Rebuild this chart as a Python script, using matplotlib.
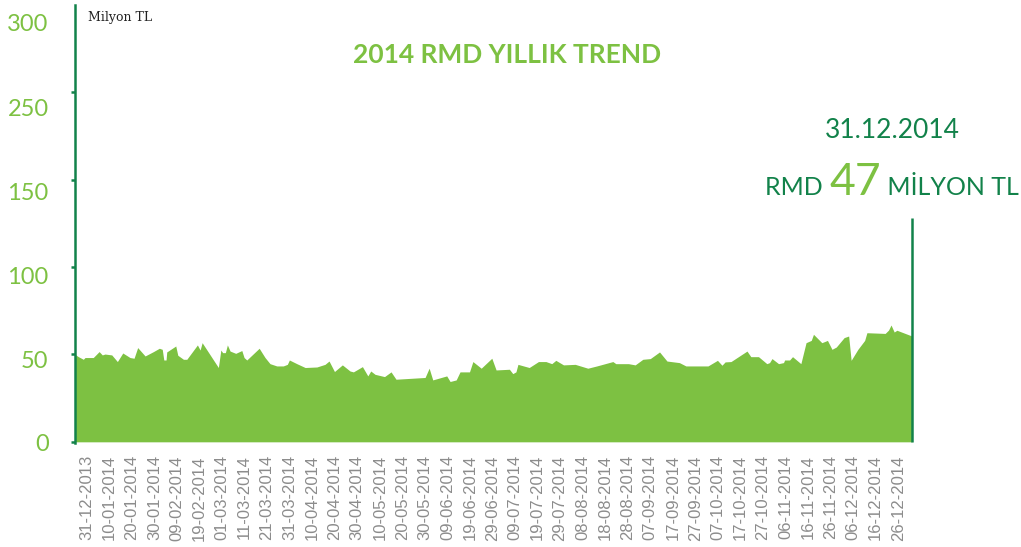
import numpy as np
import pandas as pd
import matplotlib
matplotlib.use("Agg")
import matplotlib.pyplot as plt

# RMD balance (million TL); x = days counted from 31-12-2013
days = [-5.2, -3.7, -1.5, -0.75, 2.9, 5.5, 6.9, 8.1, 11.1, 13.6, 16.0, 19.2, 21.0,
        22.6, 25.9, 29.6, 32.2, 33.5, 34.2, 35.2, 35.5, 39.5, 40.4, 42.9, 44.4,
        49.1, 50.3, 51.2, 58.4, 59.5, 60.3, 61.5, 62.4, 63.6, 66.1, 68.8, 69.8,
        71.0, 76.5, 79.1, 81.3, 84.3, 87.2, 89.0, 89.9, 93.2, 96.9, 102.1, 105.7,
        107.5, 109.9, 113.4, 116.8, 118.3, 122.3, 124.7, 126.0, 127.9, 132.1,
        135.0, 137.2, 150.1, 151.9, 153.5, 159.7, 161.2, 163.9, 165.6, 169.8,
        171.3, 175.0, 179.7, 181.6, 187.5, 189.0, 190.4, 191.3, 196.3, 200.4,
        203.7, 206.3, 208.1, 211.5, 216.7, 222.3, 226.3, 233.4, 234.7, 240.3,
        243.3, 246.7, 250.0, 254.1, 257.4, 262.9, 265.8, 275.6, 279.8, 281.8,
        283.2, 285.8, 292.9, 294.6, 298.0, 301.7, 302.9, 304.0, 306.9, 309.1,
        309.6, 311.8, 313.1, 316.8, 319.1, 321.4, 322.4, 326.1, 328.6, 330.6,
        332.5, 336.0, 338.0, 339.1, 342.1, 345.1, 346.1, 354.2, 355.7, 356.8,
        358.2, 359.4, 366.1]
rmd = [50.0, 48.7, 47.2, 48.2, 48.2, 51.6, 49.7, 50.2, 49.7, 45.9, 50.8, 48.2, 47.8,
       53.9, 49.1, 51.6, 53.5, 52.9, 46.8, 46.8, 51.4, 54.8, 49.5, 47.2, 47.2,
       55.4, 52.5, 56.7, 42.5, 52.5, 51.0, 51.0, 55.4, 51.9, 50.6, 52.2, 48.2,
       46.8, 53.5, 48.2, 44.7, 43.4, 43.4, 44.3, 46.8, 44.7, 42.5, 42.8, 44.3,
       46.2, 40.2, 44.0, 40.5, 40.0, 43.0, 37.7, 40.5, 38.6, 37.3,
       40.0, 35.8, 36.8, 42.1, 35.4, 37.7, 34.5, 35.4, 40.0, 40.0,
       45.9, 42.1, 47.8, 41.1, 41.5, 39.0, 40.0, 44.3, 42.5, 45.9,
       45.9, 44.7, 46.6, 44.0, 44.3, 42.1, 43.4, 45.9, 44.7, 44.7,
       44.0, 47.2, 47.6, 51.4, 46.2, 45.3, 43.4, 43.4, 46.6, 43.8,
       45.7, 45.9, 51.9, 48.7, 48.7, 44.7, 45.3, 47.6, 44.7, 45.3,
       46.8, 46.8, 48.7, 44.7, 56.7, 58.0, 61.5, 56.7, 58.0, 52.9,
       54.2, 59.6, 60.5, 46.6, 52.9, 58.0, 62.4, 62.0, 63.9, 66.8,
       62.8, 63.8, 60.5]

tick_days = np.arange(0, 361, 10)
tick_labels = (pd.Timestamp("2013-12-31") + pd.to_timedelta(tick_days, unit="D")).strftime("%d-%m-%Y")

y_ticks = [0, 50, 100, 150, 200]
y_labels = ["0", "50", "100", "150", "250", "300"]
y_label_pos = [-0.5, 47, 95, 143, 191, 240]

end_value_line = 128

light_green = "#7dc142"
dark_green = "#12824a"

fig = plt.figure(figsize=(10.21, 5.47), dpi=100)
ax = fig.add_axes([75 / 1021, 104.3 / 547, (912 - 75) / 1021, 438 / 547])

ax.fill_between(days, rmd, 0, color=light_green, linewidth=0)
ax.plot([days[-1], days[-1]], [0, end_value_line], color=dark_green, lw=1.8,
        solid_capstyle="butt", clip_on=False)

ax.set_xlim(days[0], days[-1])
ax.set_ylim(0, 250)

for s in ["top", "right", "bottom"]:
    ax.spines[s].set_visible(False)
ax.spines["left"].set_color(dark_green)
ax.spines["left"].set_linewidth(1.8)

ax.set_xticks(tick_days)
ax.set_xticklabels(tick_labels, rotation=90, fontsize=12, color="#8c8c8c",
                   family="Liberation Sans")
ax.tick_params(axis="x", length=0, pad=9)

ax.yaxis.remove_overlapping_locs = False
ax.set_yticks(y_ticks)
ax.set_yticklabels([])
ax.tick_params(axis="y", which="major", length=3, width=1.8, color=dark_green)
ax.set_yticks(y_label_pos, minor=True)
ax.set_yticklabels(y_labels, minor=True, fontsize=17, color=light_green, family="Lato")
ax.tick_params(axis="y", which="minor", length=0, pad=19)

fig.text(88 / 1021, 1 - 17 / 547, "Milyon TL", fontsize=9, family="DejaVu Serif",
         color="#222222", va="center", ha="left")
fig.text(507 / 1021, 1 - 55 / 547, "2014 RMD YILLIK TREND", fontsize=19,
         fontweight="bold", family="Lato", color=light_green, ha="center", va="center")

fig.text(892 / 1021, 1 - 130 / 547, "31.12.2014", fontsize=19, family="Lato",
         color=dark_green, ha="center", va="center")
base_y = 1 - 195 / 547
t1 = fig.text(765 / 1021, base_y, "RMD ", fontsize=18, family="Lato",
              color=dark_green, ha="left", va="baseline")
fig.canvas.draw()
bb = t1.get_window_extent()
t2 = fig.text(bb.x1 / 1021, base_y, "47", fontsize=32, family="Lato",
              color=light_green, ha="left", va="baseline")
fig.canvas.draw()
bb = t2.get_window_extent()
fig.text(bb.x1 / 1021, base_y, " MİLYON TL", fontsize=18, family="Lato",
         color=dark_green, ha="left", va="baseline")

fig.savefig("out.png", dpi=100)
